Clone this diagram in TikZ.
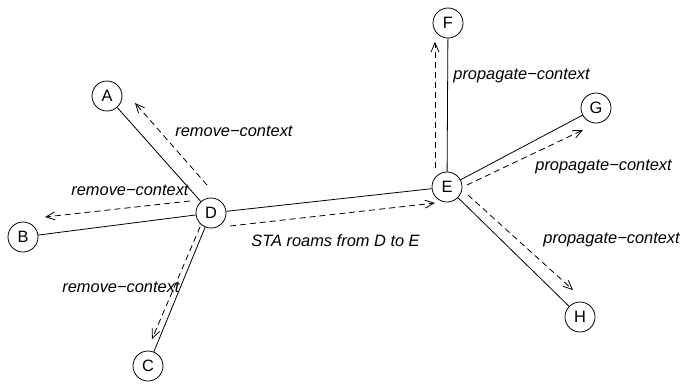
\documentclass[tikz,border=0pt]{standalone}
\usepackage{fontspec}
\setmainfont{Liberation Sans}
\usetikzlibrary{arrows.meta}

\begin{document}
\begin{tikzpicture}[x=1pt, y=-1pt, line width=0.8pt,
    station/.style={draw, circle, minimum size=30pt, inner sep=0pt, fill=white,
        font=\fontsize{16.4}{19}\selectfont},
    msg/.style={dash pattern=on 6pt off 4pt, -{Straight Barb[length=9pt, width=8pt]}},
    lbl/.style={anchor=base west, inner sep=0pt, font=\fontsize{16.4}{19}\selectfont\itshape}]
    \useasboundingbox (0,0) rectangle (680,383);

    \foreach \n/\x/\y in {A/107/96, B/23/237, C/148/366, D/211/213,
                          E/447/187, F/448/23, G/596/108, H/580/317} {
        \node[station] (\n) at (\x,\y) {\n};
    }
    \foreach \a/\b in {D/A, D/B, D/C, D/E, E/F, E/G, E/H} {
        \draw (\a) -- (\b);
    }

    \draw[msg] ([shift={(-4,-28)}]D.center) -- ([shift={(28,7)}]A.center);
    \draw[msg] ([shift={(-21,-12)}]D.center) -- ([shift={(22,-20)}]B.center);
    \draw[msg] ([shift={(-11,14)}]D.center) -- ([shift={(4,-27)}]C.center);
    \draw[msg] ([shift={(19,13)}]D.center) -- ([shift={(-12,16)}]E.center);
    \draw[msg] ([shift={(-12,-19)}]E.center) -- ([shift={(-13,19)}]F.center);
    \draw[msg] ([shift={(20,-2)}]E.center) -- ([shift={(-13,22)}]G.center);
    \draw[msg] ([shift={(21,8)}]E.center) -- ([shift={(-7,-27)}]H.center);

    \node[lbl] (rmA) at (175,136) {remove−context};
    \node[lbl] (rmB) at (71,195) {remove−context};
    \node[lbl] (rmC) at (62,292) {remove−context};
    \node[lbl] (roam) at (251,246) {STA roams from D to E};
    \node[lbl] (pgF) at (453,79) {propagate−context};
    \node[lbl] (pgG) at (535,170) {propagate−context};
    \node[lbl] (pgH) at (543,243) {propagate−context};
\end{tikzpicture}
\end{document}
